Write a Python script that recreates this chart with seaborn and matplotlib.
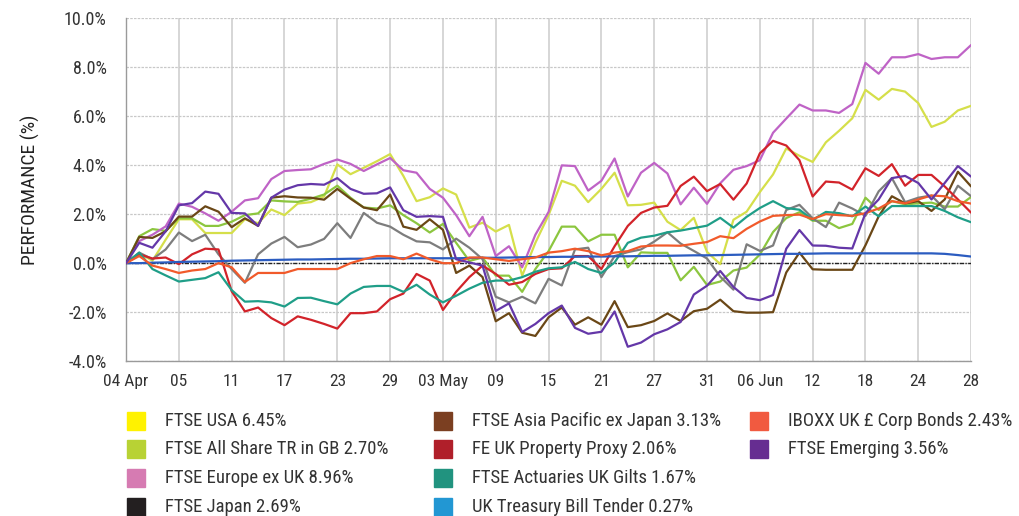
import matplotlib
matplotlib.use("Agg")
import matplotlib.pyplot as plt
from matplotlib.patches import Rectangle
from matplotlib.ticker import FuncFormatter
import numpy as np
import pandas as pd
import seaborn as sns

# tick labels on the x axis (one label every 4 trading days)
tick_labels = ["04 Apr", "05", "11", "17", "23", "29", "03 May", "09", "15",
               "21", "27", "31", "06 Jun", "12", "18", "24", "28"]

# cumulative performance (%) per trading day
ftse_usa = [0, 0.4, 0.1, 0.96, 1.79, 1.79, 1.23, 1.23, 1.23, 1.79, 1.63, 2.19, 1.96, 2.43,
            2.49, 2.72, 4.03, 3.63, 3.89, 4.16, 4.45, 3.56, 2.53, 2.69, 3.05, 2.8, 1.45,
            1.65, 1.29, 1.56, -0.51, 0.83, 1.96, 3.36, 3.16, 2.49, 3.03, 3.69, 2.36, 2.38,
            2.47, 1.69, 1.35, 1.85, 0.46, -0.04, 1.77, 2.1, 2.9, 3.62, 4.68, 4.38, 4.13,
            4.93, 5.4, 5.91, 7.07, 6.67, 7.11, 7.0, 6.53, 5.56, 5.77, 6.23, 6.42]
ftse_all_share = [0, 1.1, 1.39, 1.32, 1.83, 1.83, 1.52, 1.52, 1.69, 1.96, 2.03, 2.56, 2.52, 2.5,
                  2.63, 2.8, 3.16, 2.67, 2.27, 2.23, 2.36, 1.96, 1.63, 1.25, 1.6, 0.83, 0.09,
                  0.23, -0.51, -0.51, -1.17, -0.24, 0.49, 1.49, 1.49, 0.89, 1.16, 1.16, -0.17, 0.44,
                  0.42, 0.42, -0.7, -0.15, -0.89, -0.75, -0.3, -0.18, 0.35, 1.27, 1.84, 2.08, 1.73,
                  1.73, 1.43, 1.6, 2.67, 2.17, 2.53, 2.4, 2.44, 2.47, 2.31, 2.31, 2.7]
ftse_europe = [0, 0.9, 1.16, 1.5, 2.43, 2.3, 2.03, 1.73, 2.1, 2.56, 2.65, 3.43, 3.76, 3.8,
               3.83, 4.05, 4.23, 4.05, 3.76, 4.03, 4.29, 3.79, 3.69, 3.03, 2.67, 1.96, 1.1,
               1.89, 0.29, 0.69, -0.17, 1.16, 2.09, 3.99, 3.96, 2.96, 3.36, 4.27, 2.72, 3.69,
               4.09, 3.66, 2.4, 3.08, 2.42, 3.26, 3.81, 3.96, 4.2, 5.32, 5.9, 6.47, 6.23,
               6.23, 6.13, 6.49, 8.17, 7.73, 8.4, 8.4, 8.53, 8.33, 8.4, 8.4, 8.9]
ftse_japan = [0, 0.43, 0.16, 0.56, 1.25, 0.9, 1.16, 0.36, -0.24, -0.8, 0.36, 0.8, 1.07, 0.65,
              0.76, 0.99, 1.63, 1.03, 2.05, 1.65, 1.49, 1.16, 0.89, 0.85, 0.56, 1.0, 0.63,
              0.16, -1.37, -1.6, -1.37, -1.64, -0.64, -0.91, 0.56, 0.63, -0.57, 0.29, 0.45, 0.56,
              0.88, 1.26, 0.8, 0.5, 0.19, -0.55, -1.08, 0.77, 0.5, 0.72, 2.17, 2.38, 1.83,
              1.47, 2.47, 2.23, 1.93, 2.93, 3.47, 2.49, 2.67, 2.76, 2.2, 3.16, 2.73]
ftse_asia_pac = [0, 1.07, 1.03, 1.3, 1.9, 1.9, 2.32, 2.1, 1.47, 1.83, 1.52, 2.67, 2.73, 2.68,
                 2.67, 2.59, 3.03, 2.63, 2.27, 2.16, 2.8, 1.49, 1.36, 1.79, 1.36, -0.4, -0.1,
                 -0.57, -2.37, -2.04, -2.84, -2.97, -2.21, -1.81, -2.51, -2.21, -2.51, -1.55, -2.61, -2.53,
                 -2.36, -2.05, -2.36, -1.96, -1.86, -1.49, -1.96, -2.02, -2.02, -2.0, -0.38, 0.43, -0.25,
                 -0.27, -0.27, -0.27, 0.73, 1.91, 2.73, 2.44, 2.53, 2.13, 2.6, 3.73, 3.13]
fe_property = [0, 0.36, 0.19, 0.23, -0.04, 0.36, 0.59, 0.56, -1.15, -1.97, -1.81, -2.24, -2.53, -2.17,
               -2.31, -2.48, -2.67, -2.04, -2.04, -1.97, -1.47, -1.24, -0.44, -0.71, -1.91, -1.17, -0.57,
               -0.1, -0.44, -0.88, -0.77, -0.44, -0.24, -0.21, 0.29, 0.29, -0.24, 0.69, 1.52, 2.05,
               2.27, 2.34, 3.15, 3.53, 2.94, 3.23, 2.59, 3.25, 4.48, 4.99, 4.8, 4.2, 2.72,
               3.33, 3.29, 3.0, 3.87, 3.56, 4.04, 3.16, 3.6, 3.6, 3.13, 2.6, 2.06]
uk_gilts = [0, 0.43, -0.24, -0.5, -0.75, -0.68, -0.61, -0.37, -1.1, -1.57, -1.55, -1.6, -1.77, -1.42,
            -1.41, -1.55, -1.68, -1.24, -0.97, -0.93, -0.93, -1.17, -0.88, -1.28, -1.6, -1.33, -1.04,
            -0.8, -0.71, -0.71, -0.57, -0.35, -0.21, -0.17, 0.05, -0.24, -0.4, 0.03, 0.83, 1.04,
            1.12, 1.26, 1.33, 1.43, 1.53, 1.85, 1.45, 1.89, 2.25, 2.53, 2.25, 2.18, 1.77,
            2.09, 2.04, 1.91, 2.31, 1.91, 2.33, 2.33, 2.33, 2.33, 2.13, 1.87, 1.67]
uk_tbill = [0, 0.0, 0.02, 0.03, 0.05, 0.06, 0.07, 0.08, 0.1, 0.11,
            0.12, 0.13, 0.14, 0.15, 0.15, 0.16, 0.17, 0.18, 0.18, 0.19,
            0.2, 0.2, 0.2, 0.2, 0.2, 0.2, 0.21, 0.22, 0.22, 0.23,
            0.24, 0.25, 0.25, 0.26, 0.26, 0.27, 0.27, 0.28, 0.28, 0.29,
            0.3, 0.3, 0.31, 0.32, 0.32, 0.33, 0.34, 0.35, 0.36, 0.37,
            0.38, 0.38, 0.39, 0.4, 0.4, 0.4, 0.4, 0.4, 0.4, 0.4,
            0.4, 0.4, 0.38, 0.33, 0.27]
iboxx_corp = [0, 0.29, -0.1, -0.24, -0.4, -0.3, -0.24, 0, -0.17, -0.77, -0.4, -0.4, -0.4, -0.24,
              -0.24, -0.24, -0.24, 0, 0.16, 0.29, 0.29, 0.16, 0.39, 0.16, 0, 0, 0.23,
              0.23, 0.16, 0.09, 0.16, 0.23, 0.43, 0.49, 0.59, 0.49, 0.32, 0.43, 0.49, 0.68,
              0.72, 0.72, 0.71, 0.79, 0.86, 1.1, 1.02, 1.4, 1.7, 1.93, 1.96, 1.98, 1.8,
              2.0, 1.96, 1.93, 2.04, 2.23, 2.53, 2.44, 2.6, 2.76, 2.73, 2.53, 2.43]
ftse_emerging = [0, 0.83, 0.63, 1.3, 2.36, 2.45, 2.92, 2.83, 2.05, 2.03, 1.52, 2.67, 3.0, 3.18,
                 3.23, 3.2, 3.47, 3.03, 2.83, 2.85, 3.09, 2.16, 1.89, 1.92, 1.89, 0.16, 0.03,
                 -0.1, -1.95, -1.64, -2.81, -2.48, -2.04, -1.73, -2.64, -2.88, -2.8, -1.97, -3.41, -3.24,
                 -2.9, -2.7, -2.4, -1.28, -0.92, -0.32, -0.97, -1.42, -1.51, -1.3, 0.59, 1.35, 0.72,
                 0.71, 0.63, 0.6, 2.04, 2.6, 3.47, 3.56, 3.27, 2.6, 3.27, 3.96, 3.53]

names = ["FTSE USA 6.45%", "FTSE All Share TR in GB 2.70%", "FTSE Europe ex UK 8.96%",
         "FTSE Japan 2.69%", "FTSE Asia Pacific ex Japan 3.13%", "FE UK Property Proxy 2.06%",
         "FTSE Actuaries UK Gilts 1.67%", "UK Treasury Bill Tender 0.27%",
         "IBOXX UK £ Corp Bonds 2.43%", "FTSE Emerging 3.56%"]
series = [ftse_usa, ftse_all_share, ftse_europe, ftse_japan, ftse_asia_pac,
          fe_property, uk_gilts, uk_tbill, iboxx_corp, ftse_emerging]
line_colors = ["#d5df4a", "#8cc63f", "#bf63c6", "#7d7d7d", "#6a4716",
               "#d2232a", "#1f9e88", "#2b5cc0", "#f15a2b", "#6437a8"]
legend_colors = ["#fff200", "#b8d234", "#d67bb2", "#231f20", "#7b3f21",
                 "#b01f2a", "#21937f", "#2297d3", "#f15a40", "#662d91"]

df = pd.concat([pd.DataFrame({"day": np.arange(len(v)), "perf": v, "index": n})
                for n, v in zip(names, series)], ignore_index=True)

sns.set_style("white")
plt.rcParams["font.family"] = ["Roboto Condensed", "DejaVu Sans Condensed",
                               "Liberation Sans Narrow", "Roboto", "DejaVu Sans"]

fig = plt.figure(figsize=(10.19, 5.16), dpi=100)
ax = fig.add_axes([0.1237, 0.3, 0.8293, 0.665])

ax.axhline(0, color="#222222", lw=1.0, ls=(0, (3, 1, 1, 1)), zorder=1)
sns.lineplot(data=df, x="day", y="perf", hue="index", hue_order=names,
             palette=dict(zip(names, line_colors)), lw=1.6, legend=False, ax=ax, zorder=3)

ax.set_xlim(0, 64)
ax.set_ylim(-4, 10)
ax.set_xticks(np.arange(0, 65, 4))
ax.set_xticklabels(tick_labels)
ax.set_yticks(np.arange(-4, 10.1, 2))
ax.yaxis.set_major_formatter(FuncFormatter(lambda v, p: f"{v:.1f}%"))
ax.tick_params(axis="both", length=0, labelsize=12.5, colors="#333333")
ax.tick_params(axis="y", labelsize=13, pad=14)
ax.tick_params(axis="x", pad=9)

ax.xaxis.grid(True, color="#cfcfcf", lw=1.2, zorder=0)
ax.yaxis.grid(True, color="#c8c8c8", lw=0.9, ls=(0, (2, 1)), zorder=0)
ax.set_axisbelow(True)
for s in ["top", "right"]:
    ax.spines[s].set_visible(False)
for s in ["left", "bottom"]:
    ax.spines[s].set_color("#9a9a9a")
    ax.spines[s].set_linewidth(1.0)

ax.set_xlabel("")
ax.set_ylabel("PERFORMANCE (%)", fontsize=14, color="#222222", labelpad=17)

# legend laid out by hand in three columns
W, H = 1019, 516
col_x = [127, 434, 750]
row_y = [421, 449, 478, 507]
slots = [(0, 0), (0, 1), (0, 2), (0, 3), (1, 0), (1, 1), (1, 2), (1, 3), (2, 0), (2, 1)]
for (c, r), n, col in zip(slots, names, legend_colors):
    x0, yc = col_x[c], row_y[r]
    fig.patches.append(Rectangle((x0 / W, 1 - (yc + 9) / H), 18 / W, 18 / H,
                                 transform=fig.transFigure, color=col))
    fig.text((x0 + 38) / W, 1 - yc / H, n, fontsize=13.5, color="#333333",
             va="center", ha="left")

fig.savefig("out.png", dpi=100)
